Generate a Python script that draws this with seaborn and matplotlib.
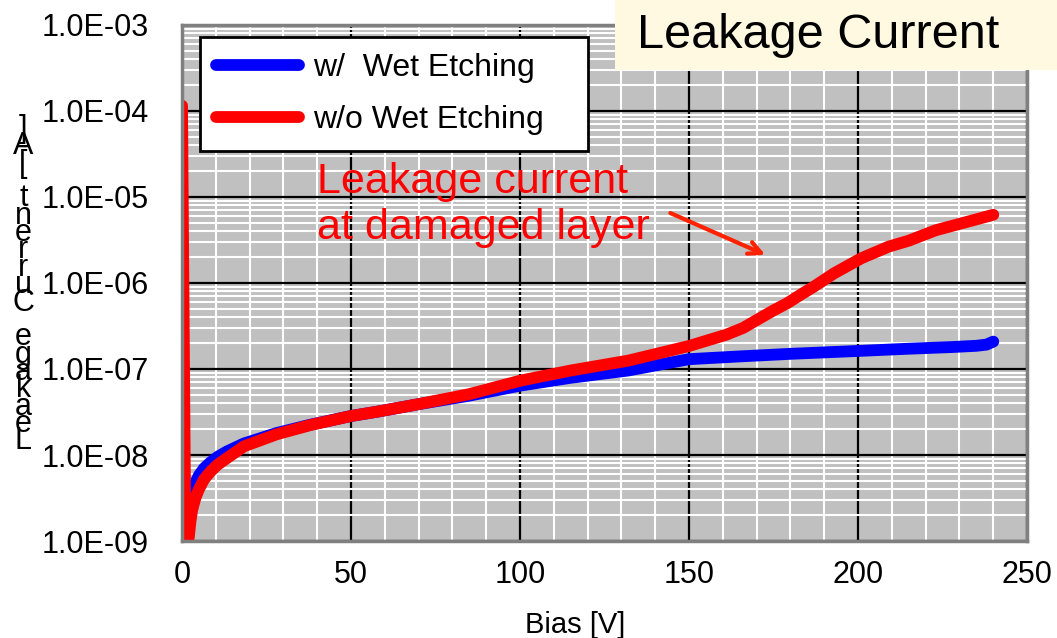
import numpy as np
import pandas as pd
import matplotlib
matplotlib.use("Agg")
import matplotlib.pyplot as plt
import matplotlib.ticker as mticker
from matplotlib.patches import Rectangle
from matplotlib.lines import Line2D
import seaborn as sns

# ---------------- data ----------------
bias_w = [1, 1.5, 2, 3, 4, 5, 6.5, 8.4, 10.5, 13.3, 18.3, 28, 38, 50, 58, 70,
          85, 100, 115, 132, 150, 165, 180, 200, 215, 228, 235, 238, 240]
cur_w = [1.0e-9, 2.0e-9, 2.8e-9, 3.8e-9, 4.8e-9, 5.8e-9, 7.0e-9, 8.2e-9,
         9.5e-9, 1.1e-8, 1.36e-8, 1.8e-8, 2.25e-8, 2.84e-8, 3.2e-8, 3.9e-8,
         4.9e-8, 6.4e-8, 7.9e-8, 9.6e-8, 1.3e-7, 1.4e-7, 1.5e-7, 1.62e-7,
         1.72e-7, 1.8e-7, 1.86e-7, 1.92e-7, 2.08e-7]

bias_wo = [0, 1, 2, 2.5, 3, 4, 5, 6.5, 8.4, 10.5, 13.3, 18.3, 28, 38, 50, 58,
           70, 85, 100, 115, 132, 150, 161, 166, 171, 175, 179, 183, 187, 193,
           201, 209, 215, 223, 232, 240]
cur_wo = [1.15e-4, 8e-10, 1.1e-9, 1.7e-9, 2.3e-9, 3.2e-9, 4.0e-9, 5.2e-9,
          6.4e-9, 7.7e-9, 9.2e-9, 1.26e-8, 1.74e-8, 2.23e-8, 2.84e-8, 3.2e-8,
          3.9e-8, 5.1e-8, 7.3e-8, 9.6e-8, 1.25e-7, 1.85e-7, 2.5e-7, 3.0e-7,
          3.9e-7, 4.8e-7, 5.8e-7, 7.3e-7, 9.1e-7, 1.3e-6, 1.94e-6, 2.64e-6,
          3.1e-6, 4.1e-6, 5.1e-6, 6.2e-6]

series_labels = ["w/  Wet Etching", "w/o Wet Etching"]
series_colors = ["#0000FF", "#FF0000"]
x_ticks = [0, 50, 100, 150, 200, 250]
y_tick_labels = ["1.0E-09", "1.0E-08", "1.0E-07", "1.0E-06", "1.0E-05",
                 "1.0E-04", "1.0E-03"]
y_ticks = [1e-9, 1e-8, 1e-7, 1e-6, 1e-5, 1e-4, 1e-3]

df = pd.concat([
    pd.DataFrame({"Bias": bias_w, "Current": cur_w, "series": series_labels[0]}),
    pd.DataFrame({"Bias": bias_wo, "Current": cur_wo, "series": series_labels[1]}),
], ignore_index=True)

# ---------------- figure ----------------
sns.set_style("white")
plt.rcParams["font.family"] = ["Liberation Sans", "DejaVu Sans"]
for k in ["text.color", "axes.labelcolor", "xtick.color", "ytick.color"]:
    plt.rcParams[k] = "black"

fig = plt.figure(figsize=(10.57, 6.38), dpi=100)
ax = fig.add_axes([0.1722, 0.152, 0.7995, 0.809])
ax.set_facecolor("#C0C0C0")

sns.lineplot(data=df, x="Bias", y="Current", hue="series", hue_order=series_labels,
             palette=series_colors, estimator=None, sort=False, units="series",
             lw=8.5, ax=ax, legend=False, solid_capstyle="round",
             solid_joinstyle="round")

ax.set_yscale("log")
ax.set_xlim(0, 250)
ax.set_ylim(1e-9, 1e-3)

ax.set_xticks(x_ticks)
ax.xaxis.set_minor_locator(mticker.MultipleLocator(10))
ax.yaxis.set_major_locator(mticker.FixedLocator(y_ticks))
ax.yaxis.set_major_formatter(mticker.FixedFormatter(y_tick_labels))
ax.yaxis.set_minor_locator(mticker.LogLocator(base=10, subs=np.arange(2, 10)))
ax.yaxis.set_minor_formatter(mticker.NullFormatter())

ax.grid(which="minor", color="white", lw=1.5, zorder=0)
ax.grid(which="major", color="black", lw=1.6, zorder=0.5)
ax.set_axisbelow(True)

ax.tick_params(axis="both", which="both", length=0)
ax.tick_params(axis="y", labelsize=22, pad=24)
ax.tick_params(axis="x", labelsize=22, pad=14)

for s in ax.spines.values():
    s.set_color("#808080")
    s.set_linewidth(2.5)

ax.set_xlabel("Bias [V]", fontsize=21, color="black")
ax.set_ylabel("")
ax.xaxis.set_label_coords(0.465, -0.135)

# stacked (vertical) y-label, as in the original
ylabel_text = "Leakage Current [A]"
fig.text(0.022, 0.553, "\n".join(reversed(ylabel_text)), fontsize=22,
         ha="center", va="center", linespacing=0.45, color="black")

# legend
handles = [Line2D([0], [0], color=c, lw=8.5, solid_capstyle="round") for c in series_colors]
leg = ax.legend(handles, series_labels, loc="upper left",
                bbox_to_anchor=(0.0213, 0.757, 0.459, 0.22), mode="expand",
                borderaxespad=0, fontsize=23, handlelength=2.6, handletextpad=0.45,
                labelspacing=0.7, borderpad=0.5, frameon=True, fancybox=False,
                framealpha=1, edgecolor="black")
leg.get_frame().set_linewidth(2)
leg.set_zorder(5)
for t in leg.get_texts():
    t.set_color("black")

# annotation
ax.text(40, 8.0e-6, "Leakage current\nat damaged layer", color="#FF0000",
        fontsize=31, ha="left", va="center", linespacing=1.2, zorder=4)
ax.annotate("", xy=(173.3, 2.06e-6), xytext=(143.7, 6.7e-6),
            arrowprops=dict(arrowstyle="->,head_length=0.9,head_width=0.45",
                            color="#FF2200", lw=3), zorder=4)

# title box
fig.add_artist(Rectangle((615 / 1057, 1 - 70 / 638), 442 / 1057, 70 / 638,
                         transform=fig.transFigure, facecolor="#FEF9E0",
                         edgecolor="none", zorder=10))
fig.text(637 / 1057, 1 - 36 / 638, "Leakage Current", fontsize=35,
         ha="left", va="center", color="black", zorder=11)

fig.savefig("out.png", dpi=100)
